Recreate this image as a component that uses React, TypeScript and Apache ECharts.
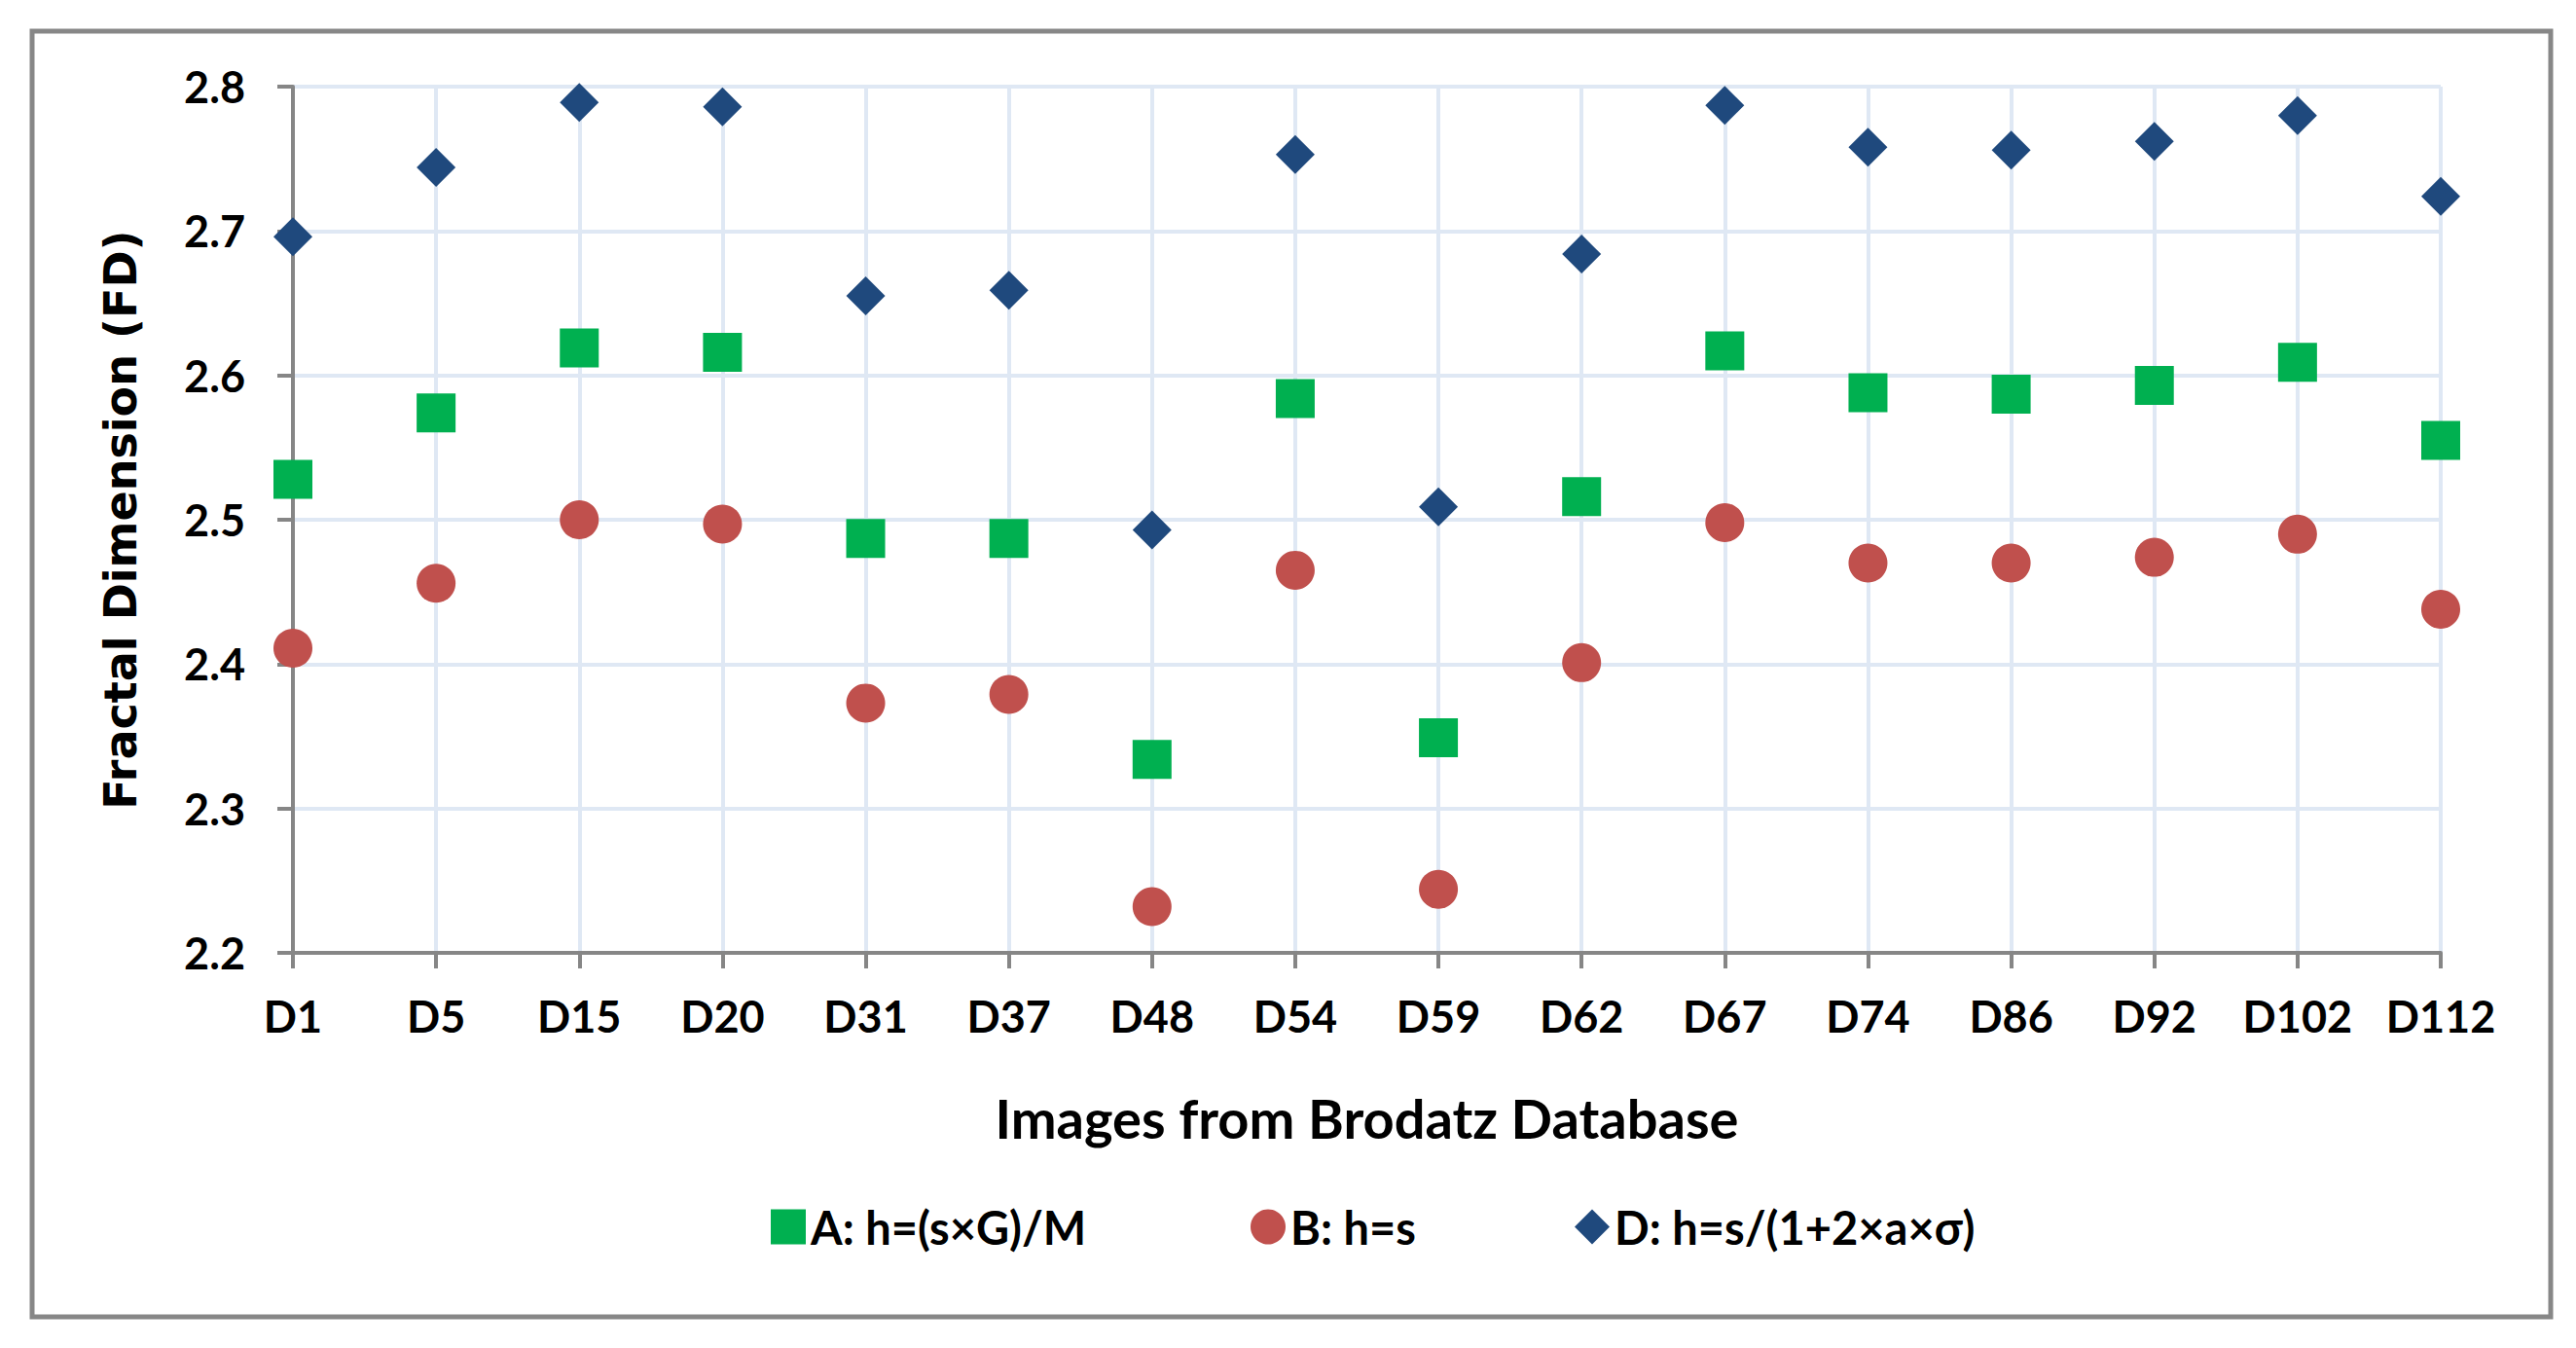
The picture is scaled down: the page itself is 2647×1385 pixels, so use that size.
import React, { useEffect, useRef } from "react";
import * as echarts from "echarts";

const categories = ["D1", "D5", "D15", "D20", "D31", "D37", "D48", "D54", "D59", "D62", "D67", "D74", "D86", "D92", "D102", "D112"];
const seriesA = [2.528, 2.574, 2.619, 2.616, 2.487, 2.487, 2.334, 2.584, 2.349, 2.516, 2.617, 2.588, 2.587, 2.593, 2.609, 2.555];
const seriesB = [2.411, 2.456, 2.5, 2.497, 2.373, 2.379, 2.232, 2.465, 2.244, 2.401, 2.498, 2.47, 2.47, 2.474, 2.49, 2.438];
const seriesD = [2.696, 2.744, 2.789, 2.786, 2.655, 2.659, 2.493, 2.753, 2.509, 2.684, 2.787, 2.758, 2.756, 2.762, 2.78, 2.724];

const nameA = "A: h=(s×G)/M";
const nameB = "B: h=s";
const nameD = "D: h=s/(1+2×a×σ)";

const Y_MIN = 2.2;
const Y_MAX = 2.8;
const Y_STEP = 0.1;

const xTitle = "Images from Brodatz Database";
const yTitle = "Fractal Dimension (FD)";

const FONT = "Lato, 'Open Sans', sans-serif";
const GRID_COLOR = "#dfe8f4";
const AXIS_COLOR = "#868686";

export default function App() {
  const ref = useRef<HTMLDivElement>(null);

  useEffect(() => {
    if (!ref.current) return;
    const chart = echarts.init(ref.current, undefined, { renderer: "svg" });
    const legendBase = {
      top: 1237,
      padding: 0,
      itemWidth: 36,
      itemHeight: 36,
      itemGap: 0,
      textStyle: { fontFamily: FONT, fontWeight: "bold", fontSize: 47, color: "#000" },
    };
    chart.setOption({
      animation: false,
      backgroundColor: "#fff",
      grid: { left: 301, right: 139, top: 89, bottom: 406, containLabel: false },
      graphic: [
        {
          type: "rect",
          shape: { x: 33, y: 32, width: 2588, height: 1321 },
          style: { fill: "none", stroke: "#878787", lineWidth: 5 },
          z: -1,
        },
      ],
      legend: [
        { ...legendBase, left: 792, data: [{ name: nameA, icon: "rect" }] },
        { ...legendBase, left: 1285, data: [{ name: nameB, icon: "circle" }] },
        { ...legendBase, left: 1618, data: [{ name: nameD, icon: "diamond" }] },
      ],
      xAxis: {
        type: "category",
        data: categories,
        boundaryGap: false,
        name: xTitle,
        nameLocation: "middle",
        nameGap: 141,
        nameTextStyle: { fontFamily: FONT, fontWeight: "bold", fontSize: 56, color: "#000" },
        axisLine: { lineStyle: { color: AXIS_COLOR, width: 4 } },
        axisTick: { show: true, length: 16, lineStyle: { color: AXIS_COLOR, width: 4 } },
        axisLabel: { margin: 42, fontFamily: FONT, fontWeight: "bold", fontSize: 45, color: "#000", interval: 0 },
        splitLine: { show: true, lineStyle: { color: GRID_COLOR, width: 4 } },
      },
      yAxis: {
        type: "value",
        min: Y_MIN,
        max: Y_MAX,
        interval: Y_STEP,
        name: yTitle,
        nameLocation: "middle",
        nameRotate: 90,
        nameGap: 154,
        nameTextStyle: { fontFamily: "'DejaVu Sans', sans-serif", fontWeight: "bold", fontSize: 46, color: "#000" },
        axisLine: { show: true, lineStyle: { color: AXIS_COLOR, width: 4 } },
        axisTick: { show: true, length: 16, lineStyle: { color: AXIS_COLOR, width: 4 } },
        axisLabel: {
          margin: 49,
          fontFamily: FONT,
          fontWeight: "bold",
          fontSize: 45,
          color: "#000",
          formatter: (v: number) => v.toFixed(1),
        },
        splitLine: { show: true, lineStyle: { color: GRID_COLOR, width: 4 } },
      },
      series: [
        { name: nameA, type: "scatter", data: seriesA, symbol: "rect", symbolSize: 40, itemStyle: { color: "#00b050", opacity: 1 } },
        { name: nameB, type: "scatter", data: seriesB, symbol: "circle", symbolSize: 40, itemStyle: { color: "#c0504d", opacity: 1 } },
        { name: nameD, type: "scatter", data: seriesD, symbol: "diamond", symbolSize: 40, itemStyle: { color: "#1f497d", opacity: 1 } },
      ],
    });
    return () => chart.dispose();
  }, []);

  return (
    <div
      ref={ref}
      style={{ position: "absolute", left: 0, top: 0, width: 2647, height: 1385, background: "#fff" }}
    />
  );
}
